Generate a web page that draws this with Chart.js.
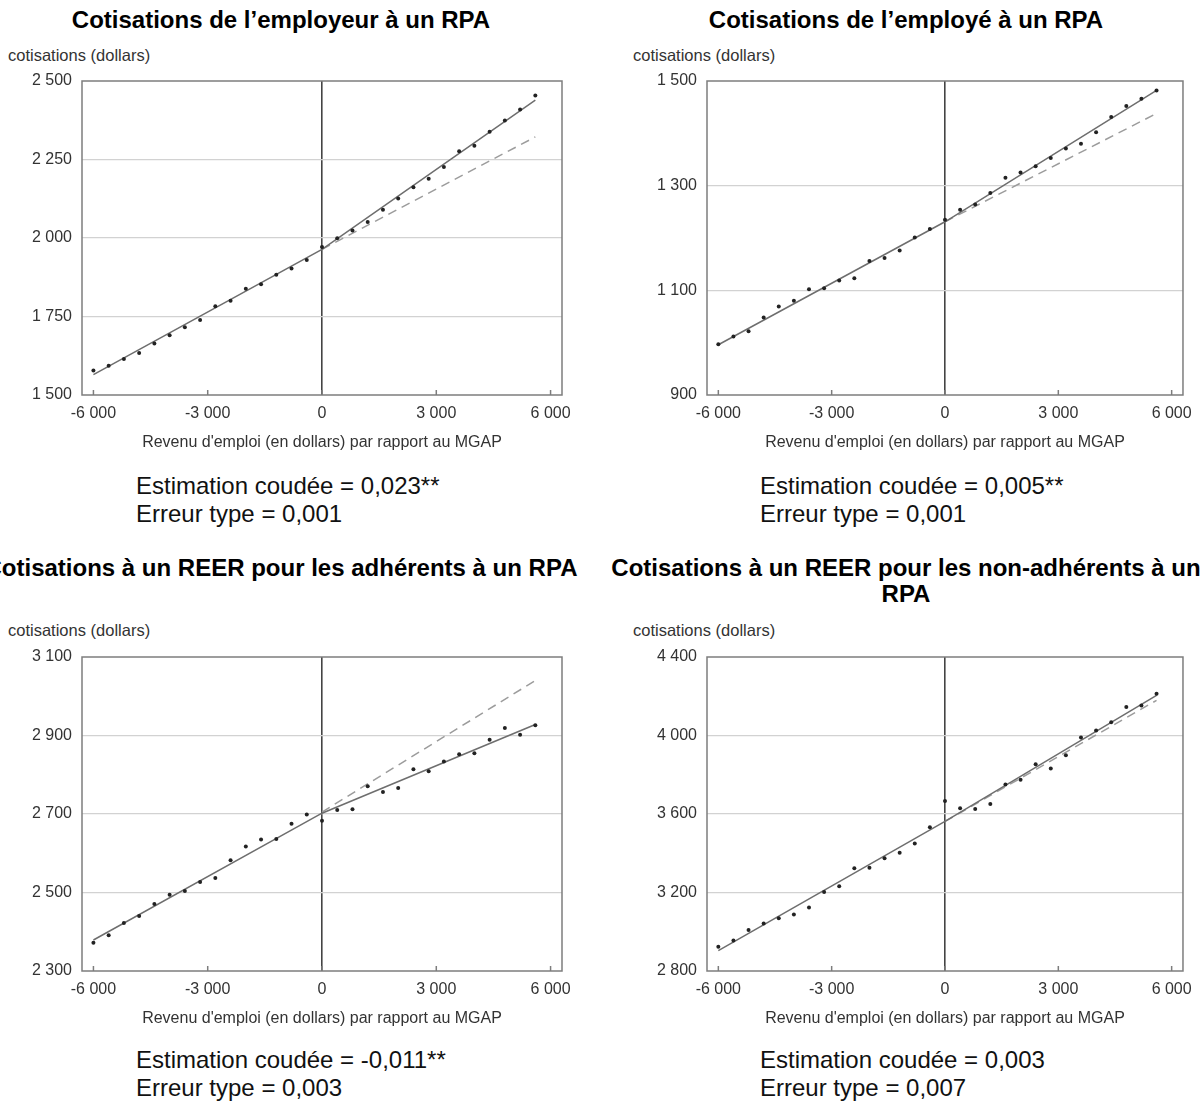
<!DOCTYPE html>
<html lang="fr">
<head>
<meta charset="utf-8">
<script src="https://cdn.jsdelivr.net/npm/chart.js@4.4.0/dist/chart.umd.min.js"></script>
<style>
    body { margin: 0; width: 1201px; height: 1101px; overflow: hidden; background: #fff; position: relative;
           font-family: "Liberation Sans", Arial, sans-serif; }
    .panel { position: absolute; }
    .title { position: absolute; width: 800px; text-align: center; font-weight: bold; font-size: 24px;
             line-height: 26px; color: #000; white-space: nowrap; }
    .unit { position: absolute; font-size: 16.5px; line-height: 18px; color: #333; white-space: nowrap; }
    .note { position: absolute; font-size: 24px; line-height: 28px; color: #111; white-space: nowrap; }
</style>
</head>
<body>

<div class="title" style="left:-119px; top:7px;">Cotisations de l’employeur à un RPA</div>
<div class="title" style="left:506px; top:7px;">Cotisations de l’employé à un RPA</div>
<div class="title" style="left:-119px; top:555px;">Cotisations à un REER pour les adhérents à un RPA</div>
<div class="title" style="left:506px; top:555px;">Cotisations à un REER pour les non-adhérents à un<br>RPA</div>

<div class="unit" style="left:8px; top:46px;">cotisations (dollars)</div>
<div class="unit" style="left:633px; top:46px;">cotisations (dollars)</div>
<div class="unit" style="left:8px; top:621px;">cotisations (dollars)</div>
<div class="unit" style="left:633px; top:621px;">cotisations (dollars)</div>

<div class="panel" style="left:0px; top:60px;"><canvas id="chart1" width="600" height="400"></canvas></div>
<div class="panel" style="left:625px; top:60px;"><canvas id="chart2" width="576" height="400"></canvas></div>
<div class="panel" style="left:0px; top:636px;"><canvas id="chart3" width="600" height="400"></canvas></div>
<div class="panel" style="left:625px; top:636px;"><canvas id="chart4" width="576" height="400"></canvas></div>

<div class="note" style="left:136px; top:472px;">Estimation coudée = 0,023**<br>Erreur type = 0,001</div>
<div class="note" style="left:760px; top:472px;">Estimation coudée = 0,005**<br>Erreur type = 0,001</div>
<div class="note" style="left:136px; top:1046px;">Estimation coudée = -0,011**<br>Erreur type = 0,003</div>
<div class="note" style="left:760px; top:1046px;">Estimation coudée = 0,003<br>Erreur type = 0,007</div>

<script>
'use strict';

// Revenu d'emploi relatif au MGAP (centres des intervalles)
var xPoints = [-6000, -5600, -5200, -4800, -4400, -4000, -3600, -3200, -2800, -2400,
               -2000, -1600, -1200, -800, -400, 0, 400, 800, 1200, 1600,
               2000, 2400, 2800, 3200, 3600, 4000, 4400, 4800, 5200, 5600];
var xTicks = [-6000, -3000, 0, 3000, 6000];

// Moyennes observées
var employeur = [1578, 1593, 1615, 1634, 1664, 1690, 1716, 1739, 1783, 1800,
                 1838, 1853, 1883, 1903, 1930, 1971, 1999, 2024, 2051, 2090,
                 2126, 2162, 2189, 2226, 2276, 2294, 2338, 2374, 2409, 2454];
var employe = [997, 1012, 1022, 1048, 1069, 1080, 1102, 1104, 1119, 1123,
               1156, 1162, 1176, 1201, 1217, 1235, 1254, 1264, 1286, 1315,
               1325, 1337, 1353, 1371, 1380, 1402, 1431, 1452, 1466, 1482];
var reerAdherents = [2372, 2391, 2422, 2440, 2471, 2494, 2504, 2527, 2537, 2582,
                     2617, 2635, 2636, 2675, 2699, 2683, 2710, 2712, 2771, 2756,
                     2766, 2814, 2809, 2834, 2852, 2855, 2889, 2919, 2902, 2926];
var reerNonAdherents = [2924, 2955, 3009, 3042, 3069, 3088, 3123, 3202, 3232, 3323,
                        3326, 3374, 3403, 3450, 3532, 3666, 3629, 3626, 3651, 3750,
                        3774, 3854, 3832, 3900, 3990, 4026, 4068, 4145, 4153, 4213];

// Droites ajustées (coude à 0) et prolongement de la pente de gauche
var fitX = [-6000, 0, 5600];
var dashX = [0, 5600];
var employeurFit = [1565, 1964, 2439];
var employeurDash = [1964, 2322];
var employeFit = [996, 1231, 1482];
var employeDash = [1231, 1438];
var reerAdherentsFit = [2379, 2702, 2928];
var reerAdherentsDash = [2705, 3040];
var reerNonAdherentsFit = [2904, 3562, 4204];
var reerNonAdherentsDash = [3562, 4179];

Chart.defaults.font.family = '"Liberation Sans", Arial, sans-serif';
Chart.defaults.color = '#333';

function formatNumber(value) {
    var s = Math.abs(value).toString().replace(/\B(?=(\d{3})+(?!\d))/g, ' ');
    return (value < 0 ? '-' : '') + s;
}

function toPoints(xs, ys) {
    return xs.map(function (x, i) {
        return { x: x, y: ys[i] };
    });
}

// Cadre gris et petites graduations vers l'intérieur
var framePlugin = {
    id: 'frame',
    beforeDatasetsDraw: function (chart) {
        var ctx = chart.ctx;
        var area = chart.chartArea;
        var xScale = chart.scales.x;

        ctx.save();
        ctx.strokeStyle = '#7d7d7d';
        ctx.lineWidth = 1.5;
        xTicks.forEach(function (v) {
            var px = xScale.getPixelForValue(v);
            ctx.beginPath();
            ctx.moveTo(px, area.bottom);
            ctx.lineTo(px, area.bottom - 5);
            ctx.stroke();
        });
        ctx.strokeRect(area.left, area.top, area.right - area.left, area.bottom - area.top);
        ctx.restore();
    }
};

function InitializeChart(id, values, fit, dash, yMin, yMax, yStep, rightPad) {
    return new Chart(document.getElementById(id), {
        type: 'scatter',
        data: {
            datasets: [
                {
                    data: toPoints(xPoints, values),
                    backgroundColor: '#222',
                    borderWidth: 0,
                    pointRadius: 2
                },
                {
                    data: toPoints(fitX, fit),
                    showLine: true,
                    borderColor: '#6e6e6e',
                    borderWidth: 1.5,
                    pointRadius: 0
                },
                {
                    data: toPoints(dashX, dash),
                    showLine: true,
                    borderColor: '#9c9c9c',
                    borderWidth: 1.5,
                    borderDash: [9, 6],
                    pointRadius: 0
                }
            ]
        },
        options: {
            responsive: false,
            animation: false,
            layout: {
                padding: { top: 21, right: rightPad, bottom: 0, left: 0 }
            },
            plugins: {
                legend: { display: false },
                tooltip: { enabled: false }
            },
            scales: {
                x: {
                    type: 'linear',
                    min: -6300,
                    max: 6300,
                    afterBuildTicks: function (scale) {
                        scale.ticks = xTicks.map(function (v) { return { value: v }; });
                    },
                    afterFit: function (scale) {
                        scale.height = 65;
                    },
                    border: { display: false },
                    grid: {
                        drawTicks: false,
                        lineWidth: 1.6,
                        color: function (c) {
                            return c.tick && c.tick.value === 0 ? '#444' : 'rgba(0,0,0,0)';
                        }
                    },
                    ticks: {
                        padding: 9,
                        maxRotation: 0,
                        font: { size: 16 },
                        color: '#333',
                        callback: function (value) { return formatNumber(value); }
                    },
                    title: {
                        display: true,
                        text: "Revenu d'emploi (en dollars) par rapport au MGAP",
                        font: { size: 16 },
                        color: '#333',
                        padding: { top: 0, bottom: 8 }
                    }
                },
                y: {
                    min: yMin,
                    max: yMax,
                    afterFit: function (scale) {
                        scale.width = 82;
                    },
                    border: { display: false },
                    grid: {
                        drawTicks: false,
                        lineWidth: 1.2,
                        color: function (c) {
                            if (!c.tick || c.tick.value === yMin || c.tick.value === yMax) {
                                return 'rgba(0,0,0,0)';
                            }
                            return '#d2d2d2';
                        }
                    },
                    ticks: {
                        stepSize: yStep,
                        padding: 10,
                        font: { size: 16 },
                        color: '#333',
                        callback: function (value) { return formatNumber(value); }
                    }
                }
            }
        },
        plugins: [framePlugin]
    });
}

window.onload = function () {
    InitializeChart('chart1', employeur, employeurFit, employeurDash, 1500, 2500, 250, 38);
    InitializeChart('chart2', employe, employeFit, employeDash, 900, 1500, 200, 14);
    InitializeChart('chart3', reerAdherents, reerAdherentsFit, reerAdherentsDash, 2300, 3100, 200, 38);
    InitializeChart('chart4', reerNonAdherents, reerNonAdherentsFit, reerNonAdherentsDash, 2800, 4400, 400, 14);
};
</script>
</body>
</html>
